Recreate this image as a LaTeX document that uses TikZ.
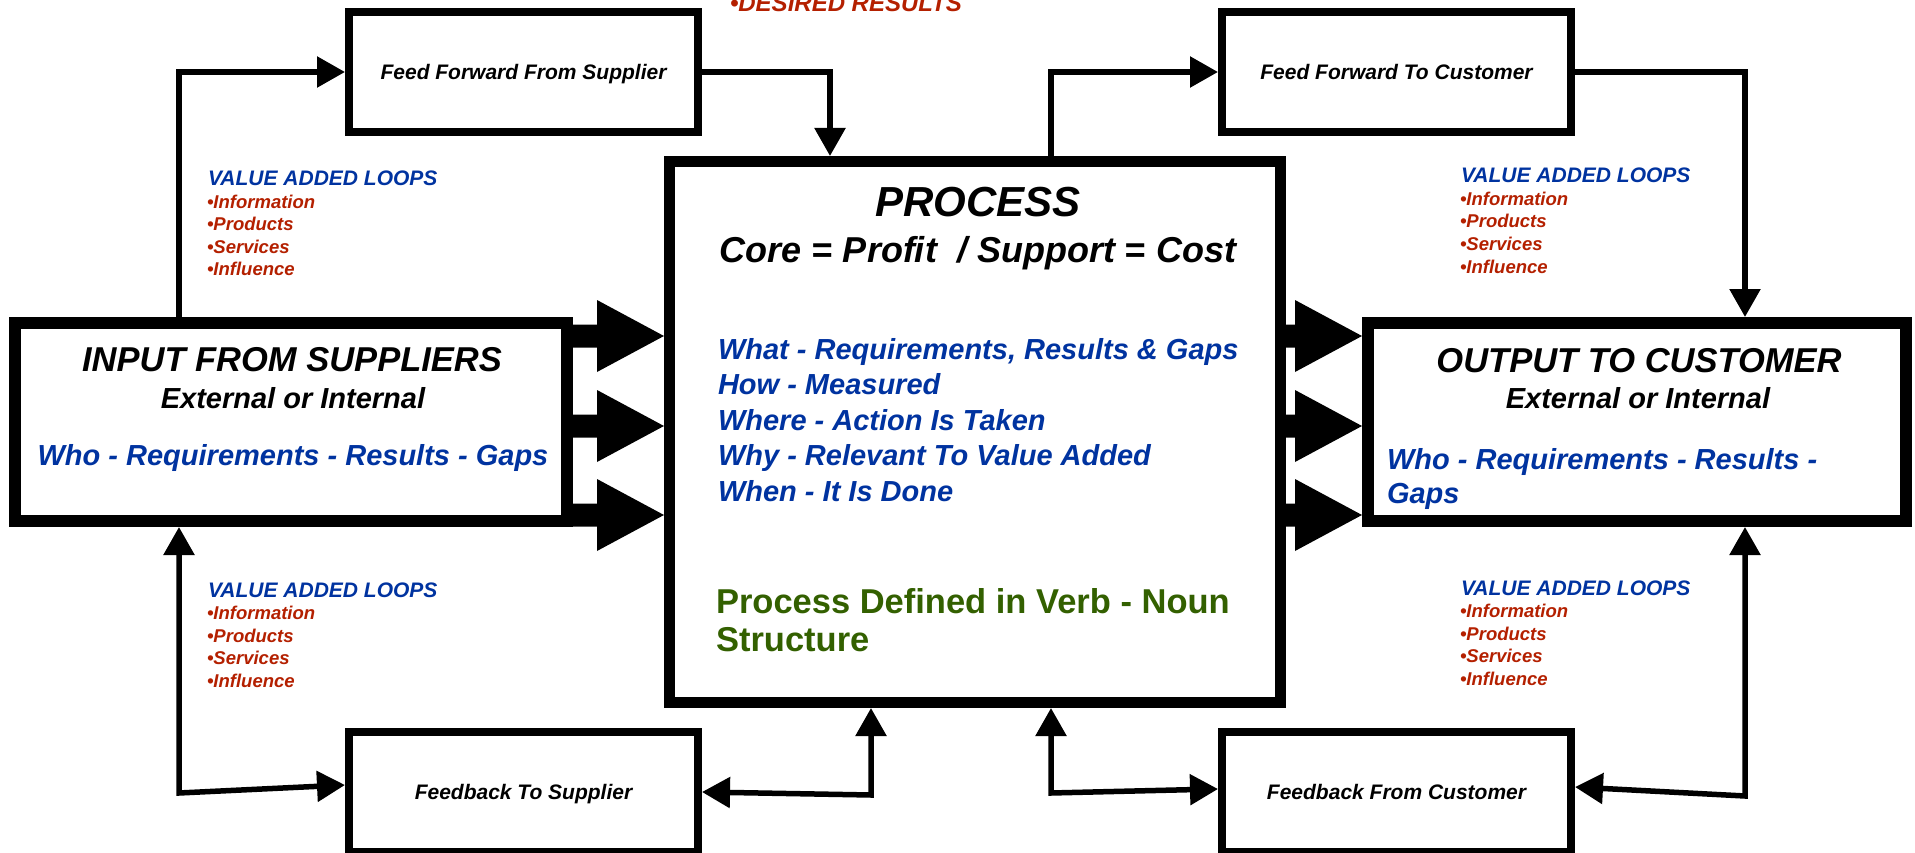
\documentclass[tikz,border=0pt]{standalone}
\usepackage{fontspec}
\setmainfont{Liberation Sans}
\usetikzlibrary{arrows.meta,calc}

\definecolor{txtblue}{RGB}{0,51,160}
\definecolor{txtred}{RGB}{180,32,0}
\definecolor{txtgreen}{RGB}{51,96,0}

\newcommand{\setfs}[1]{\fontsize{#1}{#1}\selectfont}

% thick block arrow from point #1 to point #2 (left to right)
\newcommand{\blockarrow}[2]{%
  \fill let \p1=(#1), \p2=(#2) in
    (\x1,\y1+11.5pt) -- (\x2-67pt,\y1+11.5pt) -- (\x2-67pt,\y1+36pt) -- (\x2,\y1)
    -- (\x2-67pt,\y1-36pt) -- (\x2-67pt,\y1-11.5pt) -- (\x1,\y1-11.5pt) -- cycle;}

% "value added loops" caption with its four bullets
\newcommand{\vloops}[3]{%
  \node[valhead] (#1-h) at (#2,#3) {VALUE ADDED LOOPS};
  \node[valitem] (#1-a) at (#2-1,#3+22.5) {•Information};
  \node[valitem] (#1-b) at (#2-1,#3+45) {•Products};
  \node[valitem] (#1-c) at (#2-1,#3+67.5) {•Services};
  \node[valitem] (#1-d) at (#2-1,#3+90) {•Influence};}

\tikzset{
  bigbox/.style={draw=black, fill=white, rectangle, inner sep=0pt},
  feedbox/.style={draw=black, fill=white, rectangle, line width=8pt,
    minimum width=349pt, minimum height=120pt, inner sep=0pt,
    text height=15pt, text depth=0pt, font=\setfs{21}\bfseries\itshape},
  lbl/.style={inner sep=0pt, outer sep=0pt, anchor=base},
  lblw/.style={inner sep=0pt, outer sep=0pt, anchor=base west},
  titletxt/.style={lbl, font=\setfs{34.5}\bfseries\itshape},
  subtxt/.style={lbl, font=\setfs{29}\bfseries\itshape},
  bluetxt/.style={lblw, text=txtblue, font=\setfs{29}\bfseries\itshape},
  greentxt/.style={lblw, text=txtgreen, font=\setfs{34.5}\bfseries},
  valhead/.style={lblw, text=txtblue, font=\setfs{21}\bfseries\itshape},
  valitem/.style={lblw, text=txtred, font=\setfs{18.5}\bfseries\itshape},
  link/.style={line width=5.5pt, line join=miter},
  onearrow/.style={link, -{Triangle[length=28pt,width=30pt]}},
  twoarrow/.style={link, {Triangle[length=28pt,width=30pt]}-{Triangle[length=28pt,width=30pt]}},
}

\begin{document}
\begin{tikzpicture}[x=1pt,y=-1pt]
\fill[white] (0,0) rectangle (1915,853);
\useasboundingbox (0,0) rectangle (1915,853);

% main boxes
\node[bigbox, line width=12pt, minimum width=552pt, minimum height=198pt] (input) at (291,422) {};
\node[bigbox, line width=11pt, minimum width=611pt, minimum height=541pt] (process) at (975,432) {};
\node[bigbox, line width=12pt, minimum width=538pt, minimum height=198pt] (output) at (1637,422) {};

% feed forward / feedback boxes
\node[feedbox] (ffs) at (523.5,72) {Feed Forward From Supplier};
\node[feedbox] (ffc) at (1396.5,72) {Feed Forward To Customer};
\node[feedbox] (fbs) at (523.5,792) {Feedback To Supplier};
\node[feedbox] (fbc) at (1396.5,792) {Feedback From Customer};

% reference columns, rows and bends
\coordinate (xl) at (179,0);
\coordinate (xa) at (830,0);
\coordinate (xb) at (871,0);
\coordinate (xc) at (1051,0);
\coordinate (xr) at (1745,0);
\coordinate (r1) at (0,336);
\coordinate (r2) at (0,426);
\coordinate (r3) at (0,515);
\coordinate (cbl) at (179,793);
\coordinate (cbm) at (871,795);
\coordinate (cbn) at (1051,793);
\coordinate (cbr) at (1745,796);

% block arrows: input -> process -> output
\blockarrow{input.east |- r1}{process.west |- r1}
\blockarrow{input.east |- r2}{process.west |- r2}
\blockarrow{input.east |- r3}{process.west |- r3}
\blockarrow{process.east |- r1}{output.west |- r1}
\blockarrow{process.east |- r2}{output.west |- r2}
\blockarrow{process.east |- r3}{output.west |- r3}

% feed forward loops
\draw[onearrow] (input.north -| xl) |- (ffs.west);
\draw[onearrow] (ffs.east) -| (process.north -| xa);
\draw[onearrow] (process.north -| xc) |- (ffc.west);
\draw[onearrow] (ffc.east) -| (output.north -| xr);

% feedback loops
\draw[twoarrow] (input.south -| xl) -- (cbl) -- ([yshift=7pt]fbs.west);
\draw[twoarrow] (fbs.east) -- (cbm) -- (process.south -| xb);
\draw[twoarrow] (process.south -| xc) -- (cbn) -- ([yshift=3pt]fbc.west);
\draw[twoarrow] ([yshift=5pt]fbc.east) -- (cbr) -- (output.south -| xr);

% desired results
\node[lblw, text=txtred, font=\setfs{24}\bfseries\itshape] (desired) at (730,12) {•DESIRED RESULTS};

% process box contents
\node[lbl, font=\setfs{42}\bfseries\itshape] (proc-title) at (978,217) {PROCESS};
\node[lbl, font=\setfs{36}\bfseries\itshape] (proc-core) at (978,263) {Core = Profit\ \ / Support = Cost};
\node[bluetxt] (proc-what) at (718,359) {What - Requirements, Results \& Gaps};
\node[bluetxt] (proc-how) at (718,394) {How - Measured};
\node[bluetxt] (proc-where) at (718,430) {Where - Action Is Taken};
\node[bluetxt] (proc-why) at (718,465) {Why - Relevant To Value Added};
\node[bluetxt] (proc-when) at (718,501) {When - It Is Done};
\node[greentxt] (proc-verb) at (716,613) {Process Defined in Verb - Noun};
\node[greentxt] (proc-struct) at (716,651) {Structure};

% input box contents
\node[titletxt] (in-title) at (292,371) {INPUT FROM SUPPLIERS};
\node[subtxt] (in-sub) at (293,408) {External or Internal};
\node[bluetxt, anchor=base] (in-who) at (293,465) {Who - Requirements - Results - Gaps};

% output box contents
\node[titletxt] (out-title) at (1639,372) {OUTPUT TO CUSTOMER};
\node[subtxt] (out-sub) at (1638,408) {External or Internal};
\node[bluetxt] (out-who) at (1387,469) {Who - Requirements - Results -};
\node[bluetxt] (out-gaps) at (1387,503) {Gaps};

% value added loop captions
\vloops{vtl}{208}{186}
\vloops{vtr}{1461}{183}
\vloops{vbl}{208}{597}
\vloops{vbr}{1461}{595}
\end{tikzpicture}
\end{document}
